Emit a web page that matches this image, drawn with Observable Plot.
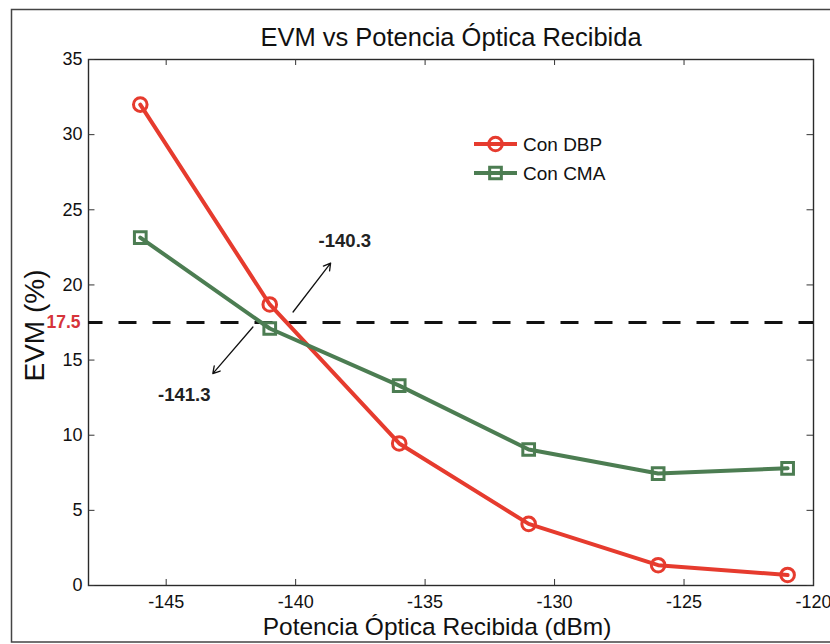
<!DOCTYPE html>
<html>
<head>
<meta charset="utf-8">
<script src="https://cdn.jsdelivr.net/npm/d3@7"></script>
<script src="https://cdn.jsdelivr.net/npm/@observablehq/plot@0.6"></script>
<style>
  html, body { margin: 0; padding: 0; background: #fff; }
  #chart svg { display: block; font-family: "Liberation Sans", Arial, sans-serif; }
</style>
</head>
<body>
<div id="chart"></div>
<script>
// Received optical power (dBm) and EVM (%) for the two receivers
const potencia = [-146, -141, -136, -131, -126, -121];
const evmDBP = [32.0, 18.7, 9.45, 4.1, 1.35, 0.7];
const evmCMA = [23.15, 17.1, 13.3, 9.05, 7.45, 7.8];

// Axis ticks
const xTicks = [-145, -140, -135, -130, -125, -120];
const yTicks = [0, 5, 10, 15, 20, 25, 30, 35];

// EVM threshold and the power at which each curve crosses it
const umbral = 17.5;
const cruces = [
  {label: "-140.3", x1: -140.1, y1: 18.2, x2: -138.65, y2: 21.45, tx: -138.1, ty: 22.9},
  {label: "-141.3", x1: -141.65, y1: 17.2, x2: -143.2, y2: 14.1, tx: -144.3, ty: 12.7}
];

const series = [
  {name: "Con DBP", values: evmDBP, color: "#e63b2e", symbol: "circle", r: 6.8},
  {name: "Con CMA", values: evmCMA, color: "#4c7d52", symbol: "square", r: 6.6}
];

const rows = series.flatMap(s => potencia.map((p, i) => ({serie: s.name, p, evm: s.values[i]})));

const xDomain = [-148, -120];
const yDomain = [0, 35];
const fmt = d => String(d);

const marks = [
  Plot.frame({stroke: "#2a2a2a", strokeWidth: 1.4}),
  // inward ticks on all four sides
  Plot.ruleX(xTicks, {x: d => d, y1: 0, y2: 0.4, stroke: "#333", strokeWidth: 1}),
  Plot.ruleX(xTicks, {x: d => d, y1: 35, y2: 34.6, stroke: "#333", strokeWidth: 1}),
  Plot.ruleY([...yTicks, umbral], {y: d => d, x1: -148, x2: -147.75, stroke: "#333", strokeWidth: 1}),
  Plot.ruleY([...yTicks, umbral], {y: d => d, x1: -120, x2: -120.25, stroke: "#333", strokeWidth: 1}),
  Plot.axisX({ticks: xTicks, tickSize: 0, tickPadding: 10, tickFormat: fmt, fontSize: 18, fill: "#111", label: null}),
  Plot.axisY({ticks: yTicks, tickSize: 0, tickPadding: 6, tickFormat: fmt, fontSize: 18, fill: "#111", label: null}),
  Plot.text([umbral], {x: -148, y: d => d, text: d => String(d), textAnchor: "end", dx: -8, fontSize: 17.5, fontWeight: "bold", fill: "#d6343a"}),
  // threshold line
  Plot.ruleY([umbral], {stroke: "#111", strokeWidth: 3, strokeDasharray: "18,16", strokeDashoffset: 3.5}),
  // curves
  ...series.map(s => Plot.line(rows.filter(r => r.serie === s.name), {x: "p", y: "evm", stroke: s.color, strokeWidth: 4})),
  ...series.map(s => Plot.dot(rows.filter(r => r.serie === s.name), {x: "p", y: "evm", symbol: () => s.symbol, r: s.r, stroke: s.color, strokeWidth: 3, fill: "none"})),
  // crossing annotations
  Plot.arrow(cruces, {x1: "x1", y1: "y1", x2: "x2", y2: "y2", stroke: "#111", strokeWidth: 1.3, headLength: 9}),
  Plot.text(cruces, {x: "tx", y: "ty", text: "label", fontSize: 18.5, fontWeight: "bold", fill: "#222"}),
  // title and axis labels
  Plot.text(["EVM vs Potencia Óptica Recibida"], {frameAnchor: "top", textAnchor: "middle", lineAnchor: "middle", dy: -22, fontSize: 25.5, fill: "#111"}),
  Plot.text(["Potencia Óptica Recibida (dBm)"], {frameAnchor: "bottom", textAnchor: "middle", lineAnchor: "middle", dx: -14, dy: 41.5, fontSize: 24.5, fill: "#111"}),
  Plot.text(["EVM (%)"], {frameAnchor: "left", textAnchor: "middle", lineAnchor: "middle", dx: -53, dy: 3, rotate: -90, fontSize: 28, fill: "#111"})
];

const plot = Plot.plot({
  width: 830,
  height: 644,
  marginLeft: 88,
  marginRight: 17,
  marginTop: 59,
  marginBottom: 59,
  style: {fontFamily: "'Liberation Sans', Arial, sans-serif", color: "#222", background: "#fff"},
  x: {domain: xDomain, axis: null},
  y: {domain: yDomain, axis: null},
  marks
});

// figure border (open on the right) and in-plot legend
const svg = d3.select(plot);
svg.append("path")
  .attr("d", "M 832 9.5 H 11.5 V 642 H 832")
  .attr("fill", "none").attr("stroke", "#444").attr("stroke-width", 1.5);

const leg = svg.append("g")
  .attr("font-family", "'Liberation Sans', Arial, sans-serif")
  .attr("text-anchor", "start");
series.forEach((s, i) => {
  const y = 144 + i * 29;
  const g = leg.append("g").attr("transform", `translate(0,${y})`);
  g.append("line").attr("x1", 474).attr("x2", 517).attr("y1", 0).attr("y2", 0)
    .attr("stroke", s.color).attr("stroke-width", 4);
  g.append("path").attr("transform", "translate(495.5,0)")
    .attr("d", d3.symbol(s.symbol === "circle" ? d3.symbolCircle : d3.symbolSquare, Math.PI * s.r * s.r)())
    .attr("fill", "none").attr("stroke", s.color).attr("stroke-width", 3);
  g.append("text").attr("x", 523).attr("y", 0).attr("dy", "0.35em")
    .attr("font-size", 19).attr("fill", "#111").text(s.name);
});

document.getElementById("chart").appendChild(plot);
</script>
</body>
</html>
